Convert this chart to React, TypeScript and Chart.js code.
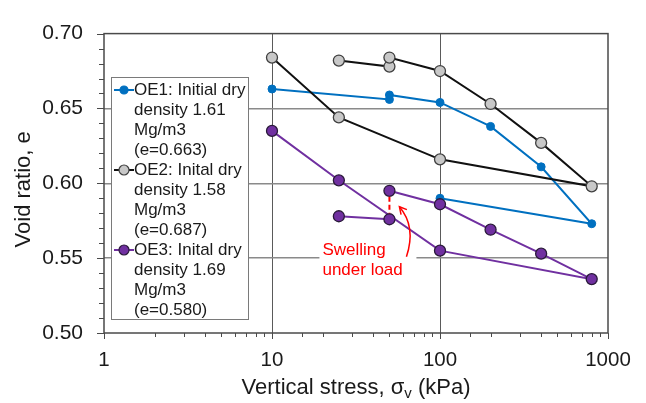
import { useEffect, useRef } from 'react';
import { Chart, registerables } from 'chart.js';
Chart.register(...registerables);

const FONT = '"Liberation Sans", Arial, Helvetica, sans-serif';

// OE1 (blue)
const oe1Stress = [10, 50, 50, 100, 200, 400, 800, 100];
const oe1Void = [0.663, 0.656, 0.659, 0.654, 0.638, 0.611, 0.573, 0.59];
// OE2 (grey)
const oe2Stress = [25, 50, 50, 100, 200, 400, 800, 100, 25, 10];
const oe2Void = [0.682, 0.678, 0.684, 0.675, 0.653, 0.627, 0.598, 0.616, 0.644, 0.684];
// OE3 (purple)
const oe3Stress = [25, 50, 50, 100, 200, 400, 800, 100, 25, 10];
const oe3Void = [0.578, 0.576, 0.595, 0.586, 0.569, 0.553, 0.536, 0.555, 0.602, 0.635];

const legend1 = ['OE1: Initial dry', 'density 1.61', 'Mg/m3', '(e=0.663)'];
const legend2 = ['OE2: Inital dry', 'density 1.58', 'Mg/m3', '(e=0.687)'];
const legend3 = ['OE3: Inital dry', 'density 1.69', 'Mg/m3', '(e=0.580)'];

const xMajorTicks = [1, 10, 100, 1000];
const xGridValues = [10, 100];
const yGridValues = [0.55, 0.6, 0.65];
const annotationLines = ['Swelling', 'under load'];

const xTitleMain = 'Vertical stress, σ';
const xTitleSub = 'v';
const xTitleEnd = ' (kPa)';
const yTitle = 'Void ratio, e';

const BLUE = '#0070C0';
const PURPLE = '#7030A0';
const GREY = '#C8C8C8';

const near = (a: number, b: number) => Math.abs(a - b) < 1e-7 * Math.max(1, Math.abs(b));
const isMajorY = (v: number) => near(v * 20, Math.round(v * 20));

export default function App() {
  const ref = useRef<HTMLCanvasElement>(null);

  useEffect(() => {
    document.body.style.margin = '0';
    const canvas = ref.current!;

    const decor = {
      id: 'decor',
      beforeDatasetsDraw(chart: any) {
        const { ctx, scales } = chart;
        const x = scales.x, y = scales.y;
        const ax = x.getPixelForValue(oe3Stress[1]);
        const ay = y.getPixelForValue(oe3Void[1]);
        ctx.save();
        ctx.fillStyle = '#ffffff';
        ctx.fillRect(ax - 70, ay + 21, 97, 42);
        ctx.restore();
      },
      afterDatasetsDraw(chart: any) {
        const { ctx, chartArea: ca, scales } = chart;
        const x = scales.x, y = scales.y;
        ctx.save();
        // frame
        ctx.strokeStyle = '#4a4a4a';
        ctx.lineWidth = 1.5;
        ctx.strokeRect(ca.left, ca.top, ca.right - ca.left, ca.bottom - ca.top);
        // tick marks
        ctx.lineWidth = 1;
        ctx.strokeStyle = '#4a4a4a';
        ctx.beginPath();
        x.ticks.forEach((t: any) => {
          const px = Math.round(x.getPixelForValue(t.value)) + 0.5;
          const major = xMajorTicks.some((m) => near(t.value, m));
          ctx.moveTo(px, ca.bottom);
          ctx.lineTo(px, ca.bottom + (major ? 6 : 4));
        });
        y.ticks.forEach((t: any) => {
          const py = Math.round(y.getPixelForValue(t.value)) + 0.5;
          const major = isMajorY(t.value);
          ctx.moveTo(ca.left, py);
          ctx.lineTo(ca.left - (major ? 7 : 5), py);
        });
        ctx.stroke();

        // legend box
        const lx = 111.5, ly = 77.5, lw = 137, lh = 242;
        ctx.fillStyle = '#ffffff';
        ctx.fillRect(lx, ly, lw, lh);
        ctx.strokeStyle = '#7a7a7a';
        ctx.lineWidth = 1;
        ctx.strokeRect(lx, ly, lw, lh);
        const entries = [
          { lines: legend1, color: BLUE, fill: BLUE, border: BLUE, r: 4 },
          { lines: legend2, color: '#111111', fill: GREY, border: '#404040', r: 5 },
          { lines: legend3, color: PURPLE, fill: PURPLE, border: '#2a1a3a', r: 5 },
        ];
        ctx.font = `17px ${FONT}`;
        ctx.textBaseline = 'middle';
        ctx.textAlign = 'left';
        let rowY = 90;
        entries.forEach((e) => {
          ctx.strokeStyle = e.color;
          ctx.lineWidth = 2;
          ctx.beginPath();
          ctx.moveTo(114, rowY);
          ctx.lineTo(134, rowY);
          ctx.stroke();
          ctx.beginPath();
          ctx.arc(124, rowY, e.r, 0, Math.PI * 2);
          ctx.fillStyle = e.fill;
          ctx.fill();
          ctx.lineWidth = 1.2;
          ctx.strokeStyle = e.border;
          ctx.stroke();
          ctx.fillStyle = '#1a1a1a';
          e.lines.forEach((s, i) => {
            ctx.fillText(s, 134, rowY + i * 20);
          });
          rowY += 80;
        });

        // swelling annotation
        const ax = x.getPixelForValue(oe3Stress[2]);
        const yTop = y.getPixelForValue(oe3Void[2]);
        const yBot = y.getPixelForValue(oe3Void[1]);
        ctx.strokeStyle = '#FF0000';
        ctx.lineWidth = 2;
        ctx.setLineDash([5, 3]);
        ctx.beginPath();
        ctx.moveTo(ax, yTop + 6);
        ctx.lineTo(ax, yBot - 6);
        ctx.stroke();
        ctx.setLineDash([]);
        // curved arrow
        const p0 = { x: ax + 17, y: yTop + 66 };
        const p1 = { x: ax + 27, y: yTop + 36 };
        const p2 = { x: ax + 10, y: yTop + 16 };
        ctx.lineWidth = 1.5;
        ctx.beginPath();
        ctx.moveTo(p0.x, p0.y);
        ctx.quadraticCurveTo(p1.x, p1.y, p2.x, p2.y);
        ctx.stroke();
        const ang = Math.atan2(p2.y - p1.y, p2.x - p1.x);
        const hl = 8;
        ctx.beginPath();
        ctx.moveTo(p2.x - hl * Math.cos(ang - 0.5), p2.y - hl * Math.sin(ang - 0.5));
        ctx.lineTo(p2.x, p2.y);
        ctx.lineTo(p2.x - hl * Math.cos(ang + 0.5), p2.y - hl * Math.sin(ang + 0.5));
        ctx.stroke();
        ctx.fillStyle = '#FF0000';
        ctx.font = `17px ${FONT}`;
        ctx.textAlign = 'left';
        ctx.textBaseline = 'middle';
        annotationLines.forEach((s, i) => ctx.fillText(s, ax - 67, yBot + 31 + i * 20));

        // axis titles
        ctx.fillStyle = '#1a1a1a';
        ctx.font = `22px ${FONT}`;
        ctx.textBaseline = 'alphabetic';
        const wMain = ctx.measureText(xTitleMain).width;
        const wEnd = ctx.measureText(xTitleEnd).width;
        ctx.font = `15px ${FONT}`;
        const wSub = ctx.measureText(xTitleSub).width;
        const total = wMain + wSub + wEnd;
        let tx = (ca.left + ca.right) / 2 - total / 2;
        const ty = 394;
        ctx.font = `22px ${FONT}`;
        ctx.textAlign = 'left';
        ctx.fillText(xTitleMain, tx, ty);
        tx += wMain;
        ctx.font = `15px ${FONT}`;
        ctx.fillText(xTitleSub, tx, ty + 4);
        tx += wSub;
        ctx.font = `22px ${FONT}`;
        ctx.fillText(xTitleEnd, tx, ty);

        ctx.translate(24, (ca.top + ca.bottom) / 2 + 6);
        ctx.rotate(-Math.PI / 2);
        ctx.textAlign = 'center';
        ctx.textBaseline = 'middle';
        ctx.fillText(yTitle, 0, 0);
        ctx.restore();
      },
    };

    const chart = new Chart(canvas, {
      type: 'line',
      data: {
        datasets: [
          {
            label: legend1.join(' '),
            data: oe1Stress.map((s, i) => ({ x: s, y: oe1Void[i] })),
            borderColor: BLUE,
            backgroundColor: BLUE,
            pointBackgroundColor: BLUE,
            pointBorderColor: BLUE,
            pointRadius: 4,
            pointBorderWidth: 1,
            borderWidth: 2,
            order: 2,
          },
          {
            label: legend2.join(' '),
            data: oe2Stress.map((s, i) => ({ x: s, y: oe2Void[i] })),
            borderColor: '#111111',
            backgroundColor: GREY,
            pointBackgroundColor: GREY,
            pointBorderColor: '#404040',
            pointRadius: 5.5,
            pointBorderWidth: 1.3,
            borderWidth: 2,
            order: 1,
          },
          {
            label: legend3.join(' '),
            data: oe3Stress.map((s, i) => ({ x: s, y: oe3Void[i] })),
            borderColor: PURPLE,
            backgroundColor: PURPLE,
            pointBackgroundColor: PURPLE,
            pointBorderColor: '#2a1a3a',
            pointRadius: 5.5,
            pointBorderWidth: 1.3,
            borderWidth: 2,
            order: 0,
            segment: {
              borderColor: (c: any) => (c.p0DataIndex === 1 ? 'rgba(0,0,0,0)' : PURPLE),
            },
          },
        ],
      },
      options: {
        responsive: false,
        animation: false,
        devicePixelRatio: 1,
        layout: { padding: { top: 26, right: 38, left: 0, bottom: 0 } },
        plugins: { legend: { display: false }, tooltip: { enabled: false } },
        elements: { line: { tension: 0 } },
        scales: {
          x: {
            type: 'logarithmic',
            min: 1,
            max: 1000,
            afterFit: (s: any) => {
              s.height = 70;
            },
            border: { display: false },
            grid: {
              drawTicks: false,
              color: (c: any) => (c.tick && xGridValues.some((g) => near(c.tick.value, g)) ? '#5a5a5a' : 'rgba(0,0,0,0)'),
              lineWidth: 1,
            },
            ticks: {
              autoSkip: false,
              maxRotation: 0,
              minRotation: 0,
              padding: 15,
              color: '#1a1a1a',
              font: { family: FONT, size: 20.5 },
              callback: (v: any) => (xMajorTicks.some((m) => near(Number(v), m)) ? String(Number(v)) : ''),
            },
          },
          y: {
            type: 'linear',
            min: 0.5,
            max: 0.7,
            afterFit: (s: any) => {
              s.width = 104;
            },
            border: { display: false },
            grid: {
              drawTicks: false,
              color: (c: any) => (c.tick && yGridValues.some((g) => near(c.tick.value, g)) ? '#8a8a8a' : 'rgba(0,0,0,0)'),
              lineWidth: 1.5,
            },
            ticks: {
              stepSize: 0.01,
              autoSkip: false,
              padding: 21,
              color: '#1a1a1a',
              font: { family: FONT, size: 21 },
              callback: (v: any) => (isMajorY(Number(v)) ? Number(v).toFixed(2) : ''),
            },
          },
        },
      },
      plugins: [decor],
    } as any);

    return () => chart.destroy();
  }, []);

  return (
    <div style={{ width: 646, height: 403 }}>
      <canvas ref={ref} width={646} height={403} style={{ display: 'block', width: 646, height: 403 }} />
    </div>
  );
}
